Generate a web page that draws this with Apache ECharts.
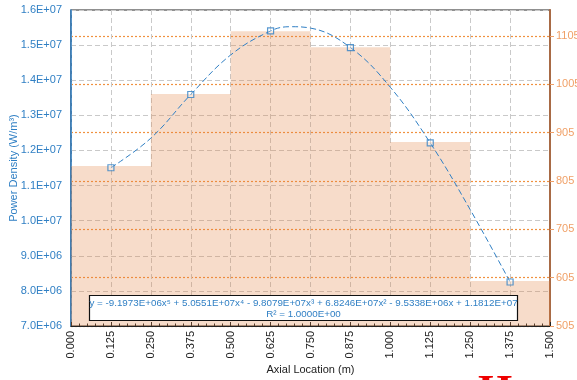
<!DOCTYPE html>
<html>
<head>
<meta charset="utf-8">
<script src="https://cdn.jsdelivr.net/npm/echarts@6/dist/echarts.min.js"></script>
<style>html,body{margin:0;padding:0;background:#fff}#c{width:577px;height:380px}</style>
</head>
<body>
<div id="c"></div>
<script>
// ---- data ----
const pointX = [0.125, 0.375, 0.625, 0.875, 1.125, 1.375];
const powerDensity = [1.1507e7, 1.3593e7, 1.5403e7, 1.4930e7, 1.2213e7, 8.253e6];
const trendX = [0.125, 0.25, 0.375, 0.5, 0.625, 0.6875, 0.75, 0.875, 1.0, 1.125, 1.25, 1.375];
const trendY = [1.1507e7, 1.2350e7, 1.3593e7, 1.4719e7, 1.5403e7, 1.5524e7, 1.5485e7, 1.4930e7, 1.3799e7, 1.2213e7, 1.0316e7, 8.253e6];
const binStart = [0, 0.25, 0.5, 0.75, 1.0, 1.25];
const binEnd = [0.25, 0.5, 0.75, 1.0, 1.25, 1.5];
const barValues = [836, 985, 1115, 1082, 886, 598];
const rightAxisMin = 505;
const rightAxisMax = 1159;
const equationText = 'y = -9.1973E+06x\u2075 + 5.0551E+07x\u2074 - 9.8079E+07x\u00b3 + 6.8246E+07x\u00b2 - 9.5338E+06x + 1.1812E+07';
const r2Text = 'R\u00b2 = 1.0000E+00';

const chart = echarts.init(document.getElementById('c'), null, {renderer: 'canvas'});
const FONT = 'Liberation Sans, Arial, sans-serif';
const BLUE = '#2f7fc4';
const ORANGE = '#f0a067';

const barData = binStart.map((s, i) => [s, binEnd[i], barValues[i] - rightAxisMin]);

const option = {
  animation: false,
  grid: {left: 71, right: 27, top: 10, bottom: 54, containLabel: false, outerBoundsMode: 'none',
    show: true, borderColor: '#222', borderWidth: 1.2, backgroundColor: 'transparent'},
  xAxis: {
    type: 'value', min: 0, max: 1.5, interval: 0.125,
    name: 'Axial Location (m)', nameLocation: 'middle', nameGap: 38, nameMoveOverlap: false,
    nameTextStyle: {color: '#222', fontSize: 11, fontFamily: FONT},
    axisLine: {show: true, onZero: false, lineStyle: {color: '#222', width: 1.2}},
    axisTick: {show: true, inside: true, length: 4, lineStyle: {color: '#222'}},
    minorTick: {show: true, splitNumber: 5, length: 2.5, lineStyle: {color: '#222'}},
    axisLabel: {rotate: 90, color: '#222', fontSize: 11, fontFamily: FONT, margin: 5,
      formatter: v => v.toFixed(3)},
    splitLine: {show: true, lineStyle: {color: '#c9c9c9', type: [5, 3], width: 1}}
  },
  yAxis: [
    {
      type: 'value', min: 7e6, max: 1.6e7, interval: 1e6, position: 'left',
      name: 'Power Density (W/m\u00b3)', nameLocation: 'middle', nameGap: 52, nameMoveOverlap: false,
      nameTextStyle: {color: BLUE, fontSize: 11, fontFamily: FONT},
      axisLine: {show: true, lineStyle: {color: BLUE, width: 1.5}},
      axisTick: {show: false},
      axisLabel: {color: BLUE, fontSize: 11, fontFamily: FONT, margin: 9,
        formatter: v => {
          const e = Math.floor(Math.log10(v) + 1e-9);
          const m = v / Math.pow(10, e);
          return m.toFixed(1) + 'E+' + String(e).padStart(2, '0');
        }},
      splitLine: {show: true, lineStyle: {color: '#c9c9c9', type: [5, 3], width: 1}}
    },
    {
      type: 'value', min: 0, max: rightAxisMax - rightAxisMin, interval: 100, position: 'right',
      axisLine: {show: true, lineStyle: {color: '#a86a45', width: 2}},
      axisTick: {show: true, length: 4, lineStyle: {color: ORANGE}},
      axisLabel: {color: ORANGE, fontSize: 11, fontFamily: FONT, margin: 6, showMaxLabel: false,
        formatter: v => String(v + rightAxisMin)},
      splitLine: {show: true, showMaxLine: false, lineStyle: {color: '#f0913f', type: [2, 2], width: 1.2}}
    }
  ],
  series: [
    {
      type: 'custom', yAxisIndex: 1, z: 1,
      data: barData,
      renderItem: (params, api) => {
        const p0 = api.coord([api.value(0), api.value(2)]);
        const p1 = api.coord([api.value(1), 0]);
        return {type: 'rect', shape: {x: p0[0], y: p0[1], width: p1[0] - p0[0], height: p1[1] - p0[1]},
          style: {fill: 'rgba(228,128,66,0.28)'}};
      }
    },
    {
      type: 'line', yAxisIndex: 0, z: 3, smooth: 0.4, showSymbol: false,
      data: trendX.map((x, i) => [x, trendY[i]]),
      lineStyle: {color: BLUE, width: 1, type: [6, 3]}
    },
    {
      type: 'scatter', yAxisIndex: 0, z: 4, symbol: 'rect', symbolSize: 6,
      data: pointX.map((x, i) => [x, powerDensity[i]]),
      itemStyle: {color: 'rgba(255,255,255,0.3)', borderColor: BLUE, borderWidth: 1.2}
    }
  ],
  graphic: [
    {type: 'rect', z: 100, shape: {x: 89.5, y: 295.5, width: 428, height: 25},
      style: {fill: '#fff', stroke: '#111', lineWidth: 1.2}},
    {type: 'text', z: 101, x: 303.5, y: 303,
      style: {text: equationText, fill: BLUE, font: '9.8px ' + FONT, align: 'center', verticalAlign: 'middle'}},
    {type: 'text', z: 101, x: 303.5, y: 314,
      style: {text: r2Text, fill: BLUE, font: '9.8px ' + FONT, align: 'center', verticalAlign: 'middle'}},
    {type: 'text', z: 101, x: 478, y: 372,
      style: {text: 'H', fill: '#e00', font: 'bold 44px Liberation Serif, serif', verticalAlign: 'top'}}
  ]
};
chart.setOption(option);
</script>
</body>
</html>
